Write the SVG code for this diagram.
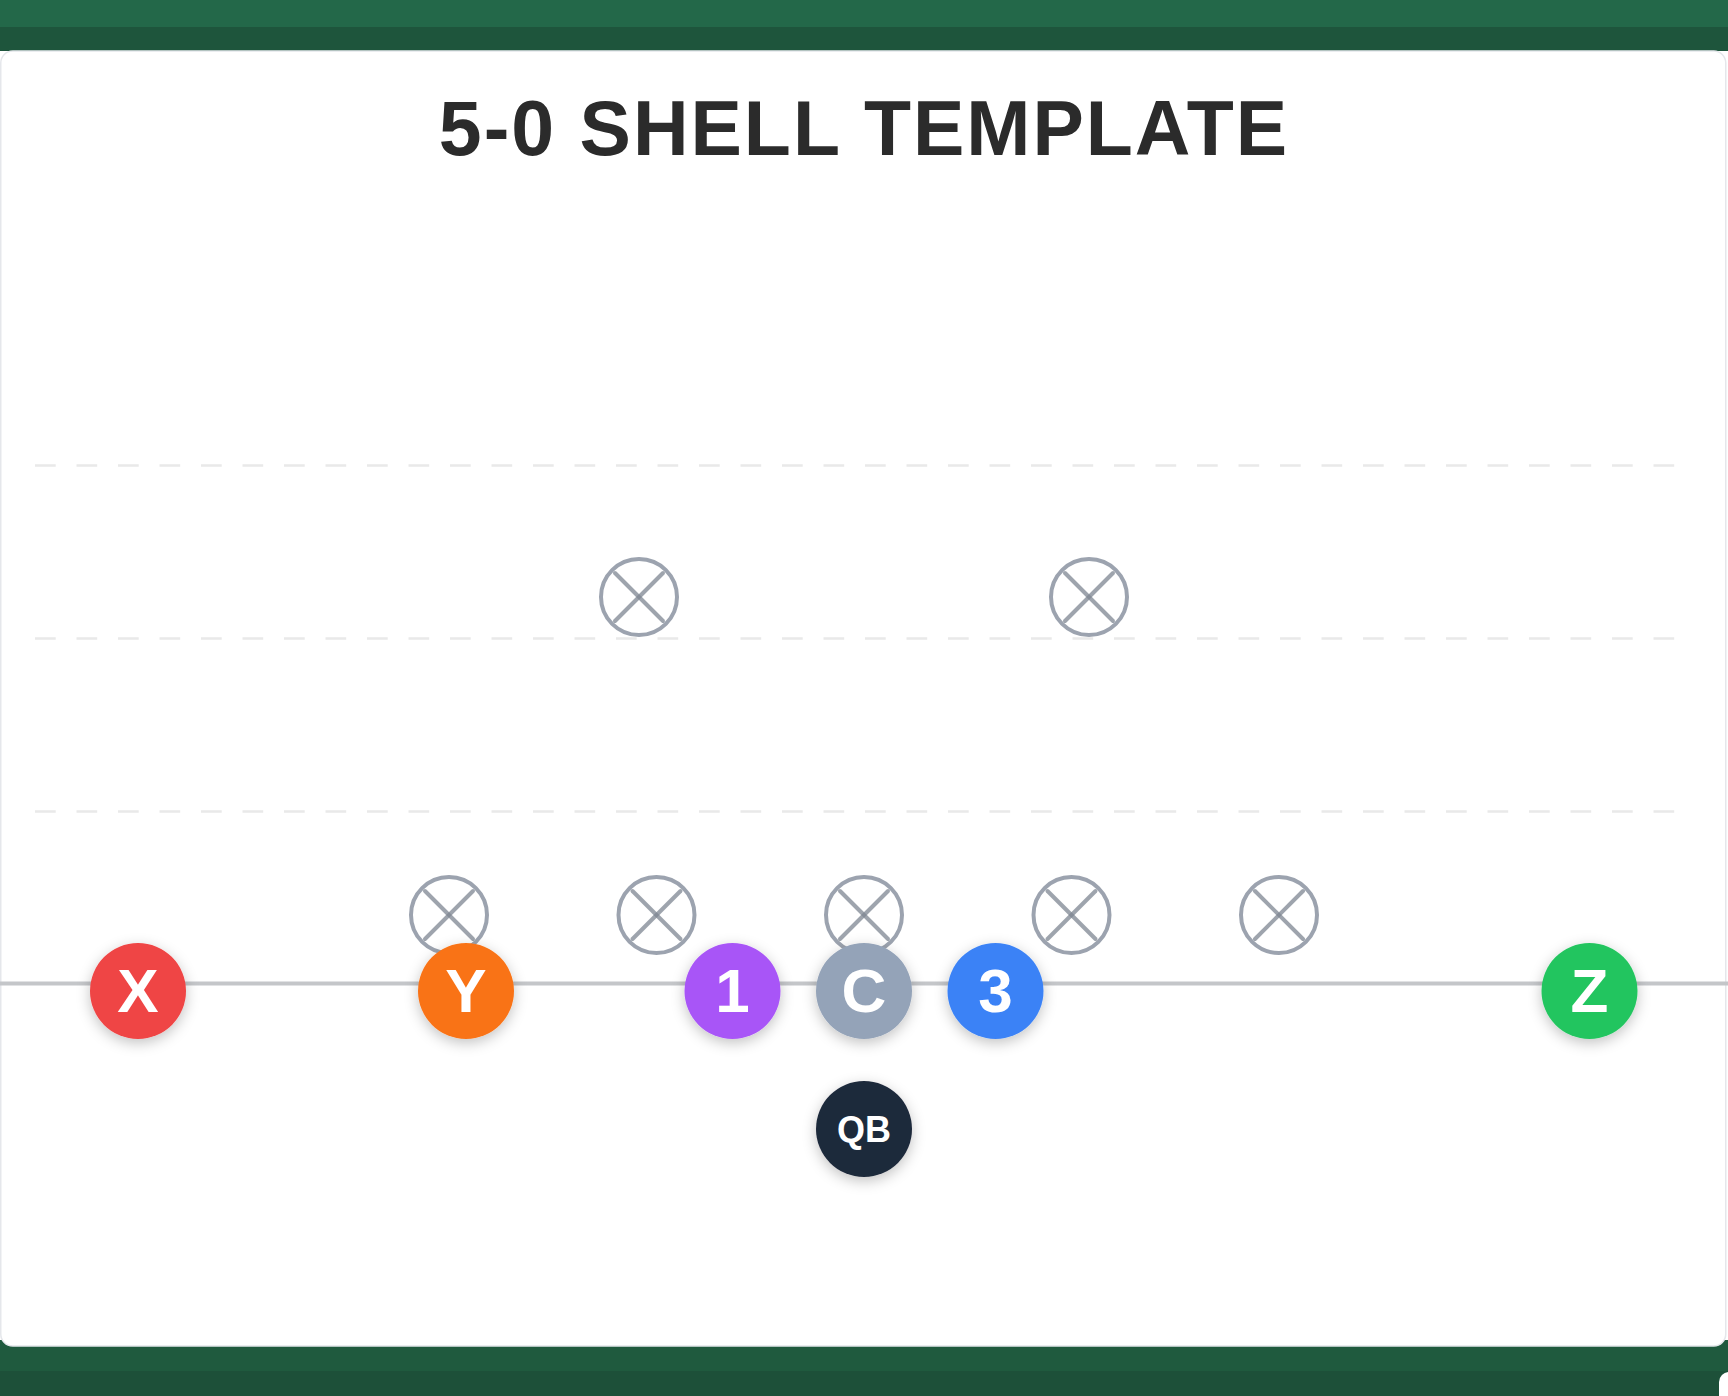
<svg xmlns="http://www.w3.org/2000/svg" width="1728" height="1396" viewBox="0 0 1728 1396">
<defs>
<style>
.title{font-family:"Liberation Sans",Arial,sans-serif;font-weight:700;font-size:77px;fill:#2b2b2b;letter-spacing:2px}
.yard{stroke:#e9e9e9;stroke-width:2.5;stroke-dasharray:20.7 20.8}
.def circle{fill:#ffffff;stroke:#9ca3af;stroke-width:4}
.def line{stroke:#7d8591;stroke-opacity:0.75;stroke-width:4;stroke-linecap:round}
.pl text{font-family:"Liberation Sans",Arial,sans-serif;font-weight:700;fill:#ffffff;text-anchor:middle}
.big{font-size:62px}
.small{font-size:36px}
</style>
<filter id="sh" x="-50%" y="-50%" width="200%" height="200%">
<feDropShadow dx="0" dy="4" stdDeviation="7" flood-color="#000000" flood-opacity="0.24"/>
</filter>
</defs>
<rect x="0" y="0" width="1728" height="27" fill="#236849"/>
<rect x="0" y="27" width="1728" height="24" fill="#1e553c"/>
<rect x="0" y="1340" width="1728" height="31" fill="#1f5a3e"/>
<rect x="0" y="1371" width="1728" height="25" fill="#1d5039"/>
<rect x="1719" y="1372" width="40" height="60" rx="10" fill="#ffffff"/>
<rect id="card" x="0.75" y="51" width="1725" height="1295" rx="12" fill="#ffffff" stroke="#e5e7eb" stroke-width="1.5"/>
<text class="title" x="864" y="155" text-anchor="middle">5-0 SHELL TEMPLATE</text>
<g id="field">
<line class="yard" x1="35" y1="465.5" x2="1680" y2="465.5"/>
<line class="yard" x1="35" y1="638.5" x2="1680" y2="638.5"/>
<line class="yard" x1="35" y1="811.5" x2="1680" y2="811.5"/>
<line id="los" x1="0" y1="983.5" x2="1728" y2="983.5" stroke="#c4c6c9" stroke-width="4"/>
</g>
<g id="connectors"></g>
<g id="def-s1" class="def"><circle cx="639" cy="597" r="38"/><line x1="615" y1="573" x2="663" y2="621"/><line x1="663" y1="573" x2="615" y2="621"/></g>
<g id="def-s2" class="def"><circle cx="1089" cy="597" r="38"/><line x1="1065" y1="573" x2="1113" y2="621"/><line x1="1113" y1="573" x2="1065" y2="621"/></g>
<g id="def-d1" class="def"><circle cx="449" cy="915" r="38"/><line x1="425" y1="891" x2="473" y2="939"/><line x1="473" y1="891" x2="425" y2="939"/></g>
<g id="def-d2" class="def"><circle cx="656.5" cy="915" r="38"/><line x1="632.5" y1="891" x2="680.5" y2="939"/><line x1="680.5" y1="891" x2="632.5" y2="939"/></g>
<g id="def-d3" class="def"><circle cx="864" cy="915" r="38"/><line x1="840" y1="891" x2="888" y2="939"/><line x1="888" y1="891" x2="840" y2="939"/></g>
<g id="def-d4" class="def"><circle cx="1071.5" cy="915" r="38"/><line x1="1047.5" y1="891" x2="1095.5" y2="939"/><line x1="1095.5" y1="891" x2="1047.5" y2="939"/></g>
<g id="def-d5" class="def"><circle cx="1279" cy="915" r="38"/><line x1="1255" y1="891" x2="1303" y2="939"/><line x1="1303" y1="891" x2="1255" y2="939"/></g>
<g id="p-x" class="pl"><circle cx="138" cy="991" r="48" fill="#ef4444" filter="url(#sh)"/><text class="big" x="138" y="1012">X</text></g>
<g id="p-y" class="pl"><circle cx="466" cy="991" r="48" fill="#f97316" filter="url(#sh)"/><text class="big" x="466" y="1012">Y</text></g>
<g id="p-1" class="pl"><circle cx="732.5" cy="991" r="48" fill="#a855f7" filter="url(#sh)"/><text class="big" x="732.5" y="1012">1</text></g>
<g id="p-c" class="pl"><circle cx="864" cy="991" r="48" fill="#94a3b8" filter="url(#sh)"/><text class="big" x="864" y="1012">C</text></g>
<g id="p-3" class="pl"><circle cx="995.5" cy="991" r="48" fill="#3b82f6" filter="url(#sh)"/><text class="big" x="995.5" y="1012">3</text></g>
<g id="p-z" class="pl"><circle cx="1589.5" cy="991" r="48" fill="#22c55e" filter="url(#sh)"/><text class="big" x="1589.5" y="1012">Z</text></g>
<g id="p-qb" class="pl"><circle cx="864" cy="1129" r="48" fill="#1e293b" filter="url(#sh)"/><text class="small" x="864" y="1142">QB</text></g>
</svg>
